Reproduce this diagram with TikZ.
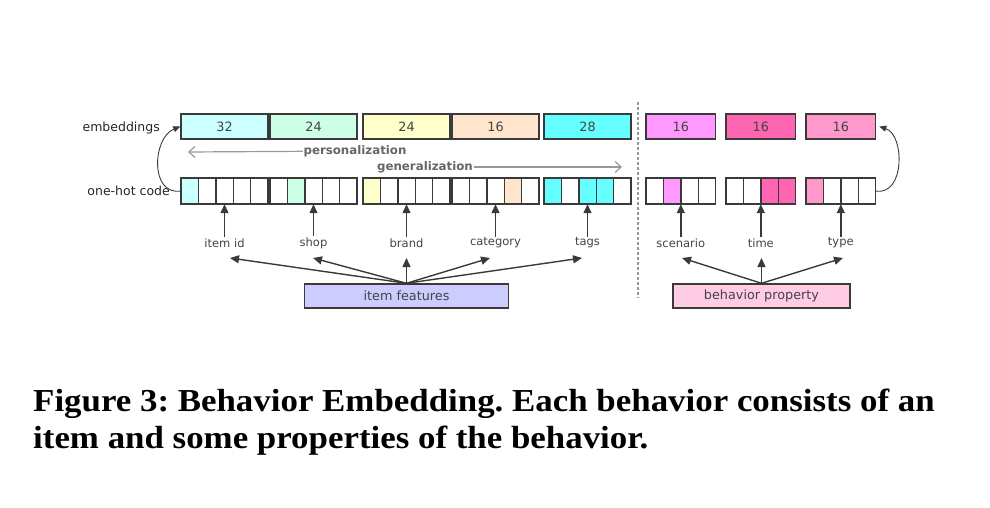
\documentclass[tikz,border=0pt]{standalone}
\usepackage{fontspec}
\setmainfont{Liberation Serif}
\newfontfamily\capfont[FakeStretch=1.09]{Liberation Serif}
\newfontfamily\diagfont{DejaVu Sans}
\usetikzlibrary{arrows.meta}
\frenchspacing

\definecolor{boxline}{HTML}{3A3A3A}
\definecolor{boxtext}{HTML}{444444}
\definecolor{hintgray}{HTML}{999999}
\definecolor{embA}{HTML}{CCFFFF}
\definecolor{embB}{HTML}{CCFFE6}
\definecolor{embC}{HTML}{FFFFCC}
\definecolor{embD}{HTML}{FFE5CC}
\definecolor{embE}{HTML}{66FFFF}
\definecolor{embF}{HTML}{FF99FF}
\definecolor{embG}{HTML}{FF66B2}
\definecolor{embH}{HTML}{FF99CC}
\definecolor{itemfill}{HTML}{CCCCFF}
\definecolor{behfill}{HTML}{FFCCE6}

\tikzset{
  box/.style={draw=boxline, line width=1.4pt, minimum height=25pt, inner sep=0pt,
    text=boxtext, font=\diagfont\fontsize{12.8}{12.8}\selectfont},
  cell/.style={draw=boxline, line width=1.4pt, minimum width=17.4pt, minimum height=26pt, inner sep=0pt},
  lbl/.style={text=boxtext, inner sep=1pt, font=\diagfont\fontsize{11.5}{11.5}\selectfont},
  rowlbl/.style={text=black!85, inner sep=0pt, font=\diagfont\fontsize{12.5}{12.5}\selectfont},
  hintlbl/.style={text=black!60, inner sep=0.5pt, font=\diagfont\bfseries\fontsize{11.8}{11.8}\selectfont},
  up/.style={draw=boxline, line width=1.4pt, -{Triangle[length=9pt,width=8pt]}},
  lookup/.style={draw=boxline, line width=0.9pt, -{Triangle[length=7pt,width=6pt]}},
  hint/.style={draw=hintgray, line width=1.2pt, -{Straight Barb[length=6pt,width=11pt]}},
  capt/.style={inner sep=0pt, font=\capfont\bfseries\fontsize{32}{38}\selectfont},
}

\begin{document}
\begin{tikzpicture}[x=1pt, y=-1pt]
    \useasboundingbox (0,0) rectangle (990,508);

    % One-hot code cells, one group per feature
    \foreach \gx/\n/\g in {181/5/item, 270/5/shop, 363/5/brand, 452/5/cat, 544/5/tags,
                           646/4/scen, 726/4/time, 806/4/type} {
        \foreach \i in {1,...,\n}
            \node[cell] (\g\i) at ({\gx+17.4*\i-8.7}, 191) {};
        \node[inner sep=0pt, minimum width={\n*17.4pt}, minimum height=26pt] (h\g) at ({\gx+8.7*\n}, 191) {};
    }
    % Hot cells
    \foreach \c/\col in {item1/embA, shop2/embB, brand1/embC, cat4/embD, tags1/embE, tags3/embE,
                         tags4/embE, scen2/embF, time3/embG, time4/embG, type1/embH}
        \node[cell, fill=\col] at (\c) {};

    % Embeddings
    \foreach \gx/\n/\g/\v/\col in {181/5/item/32/embA, 270/5/shop/24/embB, 363/5/brand/24/embC,
                                   452/5/cat/16/embD, 544/5/tags/28/embE, 646/4/scen/16/embF,
                                   726/4/time/16/embG, 806/4/type/16/embH}
        \node[box, fill=\col, minimum width={\n*17.4pt}] (e\g) at ({\gx+8.7*\n}, 126.5) {\v};

    % Row labels
    \node[rowlbl, anchor=east] (embl) at (160,128) {embeddings};
    \node[rowlbl, anchor=east] (onehotl) at (170,191) {one-hot code};

    % Lookup from one-hot code to embeddings
    \draw[lookup] (hitem.west) .. controls (150,196) and (152,138) .. (eitem.west);
    \draw[lookup] (htype.east) .. controls (905,196) and (905,135) .. ([xshift=3pt]etype.east);

    % Personalization and generalization
    \node[hintlbl] (pers) at (355,151) {personalization};
    \coordinate (pend) at (188,152);
    \draw[hint] (pers) -- (pend);
    \node[hintlbl] (gen) at (425,167) {generalization};
    \coordinate (gend) at (622,167);
    \draw[hint] (gen) -- (gend);

    % Feature names
    \foreach \g/\t in {item/item id, shop/shop, brand/brand, cat/category, tags/tags,
                       scen/scenario, time/time, type/type} {
        \node[lbl] (l\g) at (h\g |- 0,243) {\t};
        \draw[up] (l\g) -- (h\g);
    }

    % Separator
    \coordinate (dtop) at (638,102);
    \coordinate (dbot) at (638,298);
    \draw[hintgray, line width=1.2pt, dash pattern=on 3pt off 2pt] (dtop) -- (dbot);

    % Item features
    \node[box, fill=itemfill, minimum width=204pt, minimum height=24pt] (feat) at (406.5,296) {item features};
    \foreach \x/\f in {230/item, 313/shop, 406.5/brand, 490/cat, 582/tags} {
        \coordinate (f\f) at (\x,258);
        \draw[up] (feat.north) -- (f\f);
    }

    % Behavior property
    \node[box, fill=behfill, minimum width=177pt, minimum height=24pt] (beh) at (761.5,296) {behavior property};
    \foreach \x/\f in {682/scen, 761.5/time, 843/type} {
        \coordinate (f\f) at (\x,258);
        \draw[up] (beh.north) -- (f\f);
    }

    % Caption
    \node[capt, anchor=base west] (cap1) at (33,411) {Figure 3: Behavior Embedding. Each behavior consists of an};
    \node[capt, anchor=base west] (cap2) at (33,448) {item and some properties of the behavior.};
\end{tikzpicture}
\end{document}
